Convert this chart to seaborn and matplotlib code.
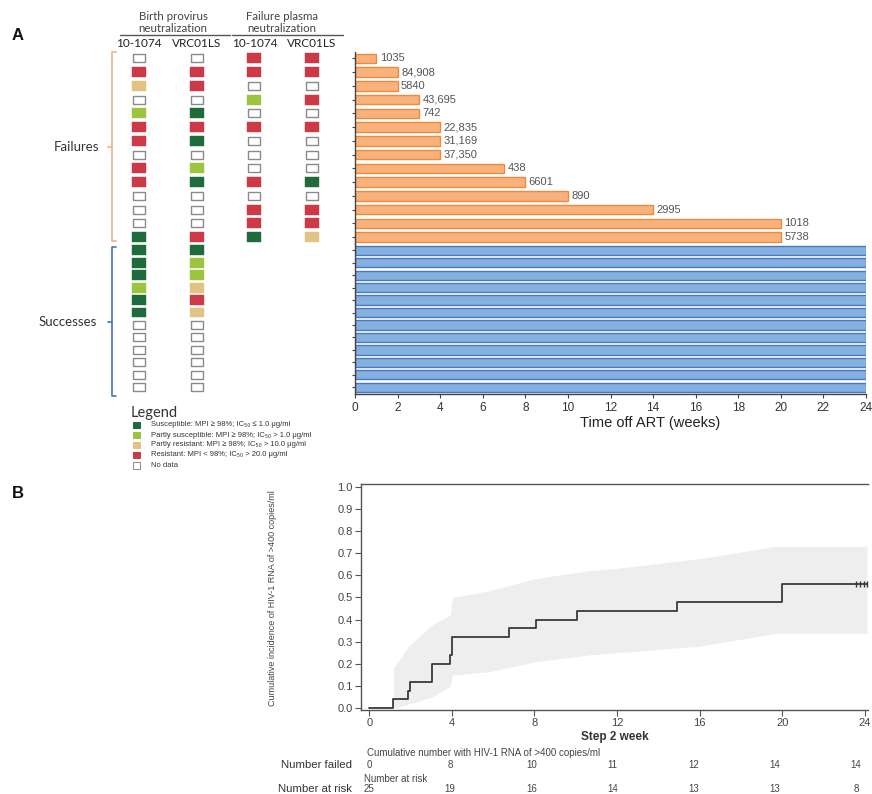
import matplotlib
matplotlib.use("Agg")
import matplotlib.pyplot as plt
import matplotlib.transforms as mtransforms
from matplotlib.lines import Line2D
from matplotlib.patches import Rectangle
import numpy as np
import pandas as pd
import seaborn as sns

# ---------------- data ----------------
failure_weeks = [1, 2, 2, 3, 3, 4, 4, 4, 7, 8, 10, 14, 20, 20]
failure_viral_loads = ["1035", "84,908", "5840", "43,695", "742", "22,835",
                       "31,169", "37,350", "438", "6601", "890", "2995", "1018", "5738"]
success_weeks = [24, 24, 24, 24, 24, 24, 24, 24, 24, 24, 24, 24]

column_labels = ["10-1074", "VRC01LS", "10-1074", "VRC01LS"]
group_labels = [("Birth provirus", "neutralization"), ("Failure plasma", "neutralization")]

# S susceptible, PS partly susceptible, PR partly resistant, R resistant, N no data
fail_birth_10_1074 = ["N", "R", "PR", "N", "PS", "R", "R", "N", "R", "R", "N", "N", "N", "S"]
fail_birth_vrc01ls = ["N", "R", "R", "N", "S", "R", "S", "N", "PS", "S", "N", "N", "N", "R"]
fail_plasma_10_1074 = ["R", "R", "N", "PS", "N", "R", "N", "N", "N", "R", "N", "R", "R", "S"]
fail_plasma_vrc01ls = ["R", "R", "N", "R", "N", "R", "N", "N", "N", "S", "N", "R", "R", "PR"]
succ_birth_10_1074 = ["S", "S", "S", "PS", "S", "S", "N", "N", "N", "N", "N", "N"]
succ_birth_vrc01ls = ["S", "PS", "PS", "PR", "R", "PR", "N", "N", "N", "N", "N", "N"]

status_codes = ["S", "PS", "PR", "R", "N"]
status_labels = ["Susceptible: MPI \u2265 98%; IC\u2085\u2080 \u2264 1.0 \u03bcg/ml",
                 "Partly susceptible: MPI \u2265 98%; IC\u2085\u2080 > 1.0 \u03bcg/ml",
                 "Partly resistant: MPI \u2265 98%; IC\u2085\u2080 > 10.0 \u03bcg/ml",
                 "Resistant: MPI < 98%; IC\u2085\u2080 > 20.0 \u03bcg/ml",
                 "No data"]
status_colors = {"S": "#1F6B3B", "PS": "#9BC43F", "PR": "#E2C384", "R": "#CD3A45", "N": "#FFFFFF"}

km_weeks = [0, 1.17, 1.9, 1.98, 3.03, 3.92, 4.03, 6.75, 8.05, 10.04, 14.9, 20.0, 24.1]
km_incidence = [0.0, 0.04, 0.08, 0.12, 0.20, 0.24, 0.32, 0.36, 0.40, 0.44, 0.48, 0.56, 0.56]
ci_weeks = [1.17, 1.9, 3.03, 3.92, 4.03, 5.8, 8.05, 10.6, 11.9, 16.0, 19.7, 24.1]
ci_upper = [0.18, 0.28, 0.375, 0.42, 0.50, 0.53, 0.585, 0.62, 0.63, 0.675, 0.73, 0.73]
ci_lower = [0.0, 0.02, 0.05, 0.10, 0.15, 0.165, 0.21, 0.24, 0.25, 0.28, 0.338, 0.338]
censor_weeks = [23.55, 23.75, 23.95, 24.1]
censor_incidence = [0.56, 0.56, 0.56, 0.56]

risk_weeks = [0, 4, 8, 12, 16, 20, 24]
number_failed = [0, 8, 10, 11, 12, 14, 14]
number_at_risk = [25, 19, 16, 14, 13, 13, 8]

# ---------------- figure ----------------
W, H = 872, 794
sns.set_theme(style="white")
plt.rcParams["font.family"] = ["Liberation Sans", "DejaVu Sans"]
CAL = ["Lato", "DejaVu Sans"]

fig = plt.figure(figsize=(W / 100, H / 100), dpi=100)


def add_ax(l, t, r, b):
    return fig.add_axes([l / W, 1 - b / H, (r - l) / W, (b - t) / H])


def fx(x):
    return x / W


def fy(y):
    return 1 - y / H


AXC = "#444444"

# ---- bars: failures ----
fail_ids = [f"F{i}" for i in range(len(failure_weeks))]
df_fail = pd.DataFrame({"id": fail_ids, "weeks": failure_weeks})
ax_f = add_ax(355, 51.5, 866, 244)
sns.barplot(data=df_fail, x="weeks", y="id", orient="h", color="#F9B27C",
            edgecolor="#EE8A3C", linewidth=1.0, width=0.68, saturation=1, ax=ax_f)
ax_f.bar_label(ax_f.containers[0], labels=failure_viral_loads, padding=2.5,
               fontsize=8, color="#555555")
ax_f.set_xlim(0, 24)
ax_f.set_ylim(len(fail_ids) - 0.5, -0.5)
ax_f.set_xlabel("")
ax_f.set_ylabel("")
ax_f.set_xticks([])
ax_f.set_yticks(range(len(fail_ids)))
ax_f.set_yticklabels([])
for s in ["top", "right", "bottom"]:
    ax_f.spines[s].set_visible(False)
ax_f.spines["left"].set_color(AXC)
ax_f.spines["left"].set_linewidth(1.0)
ax_f.tick_params(axis="y", left=True, direction="inout", length=4, width=0.8, color=AXC)
ax_f.patch.set_alpha(0)

# ---- bars: successes ----
succ_ids = [f"S{i}" for i in range(len(success_weeks))]
df_succ = pd.DataFrame({"id": succ_ids, "weeks": success_weeks})
ax_s = add_ax(355, 244, 866, 393.5)
sns.barplot(data=df_succ, x="weeks", y="id", orient="h", color="#84B1E0",
            edgecolor="#4A78BE", linewidth=1.0, width=0.745, saturation=1, ax=ax_s)
ax_s.set_xlim(0, 24)
ax_s.set_ylim(len(succ_ids) - 0.5, -0.5)
ax_s.set_ylabel("")
ax_s.set_yticks(range(len(succ_ids)))
ax_s.set_yticklabels([])
ax_s.set_xticks(range(0, 25, 2))
ax_s.set_xticklabels([str(v) for v in range(0, 25, 2)])
for s in ["top", "right"]:
    ax_s.spines[s].set_visible(False)
for s in ["left", "bottom"]:
    ax_s.spines[s].set_color(AXC)
    ax_s.spines[s].set_linewidth(1.0)
ax_s.tick_params(axis="y", left=True, direction="inout", length=4, width=0.8, color=AXC)
ax_s.tick_params(axis="x", bottom=True, direction="out", length=3, width=0.8, color=AXC,
                 labelsize=8.5, labelcolor="#333333", pad=3)
ax_s.set_xlabel("Time off ART (weeks)", fontsize=10.5, color="#222222")
ax_s.xaxis.set_label_coords((650 - 355) / 511, (393.5 - 423) / 149.5)
ax_s.xaxis.label.set_va("center")
ax_s.patch.set_alpha(0)

# ---- neutralization squares ----
rect_marker = [(-1, -0.7), (1, -0.7), (1, 0.7), (-1, 0.7), (-1, -0.7)]


def cell_frame(cols):
    rows = []
    for ci, col in enumerate(cols):
        for ri, code in enumerate(col):
            rows.append((ci, ri, code))
    return pd.DataFrame(rows, columns=["col", "row", "status"])


def draw_cells(ax, df, nrows):
    colored = df[df["status"] != "N"]
    empty = df[df["status"] == "N"]
    if len(colored):
        sns.scatterplot(data=colored, x="col", y="row", hue="status", palette=status_colors,
                        marker=rect_marker, s=102, edgecolor="face", linewidth=0.3,
                        legend=False, ax=ax)
    if len(empty):
        sns.scatterplot(data=empty, x="col", y="row", color="white", marker=rect_marker,
                        s=84, edgecolor="#8A8A8A", linewidth=1.0, legend=False, ax=ax)
    ax.set_xlim(-0.486, 3.485)
    ax.set_ylim(nrows - 0.5, -0.5)
    ax.axis("off")


ax_cf = add_ax(111, 51.5, 340, 244)
draw_cells(ax_cf, cell_frame([fail_birth_10_1074, fail_birth_vrc01ls,
                              fail_plasma_10_1074, fail_plasma_vrc01ls]), len(fail_ids))
ax_cs = add_ax(111, 244, 340, 393.5)
draw_cells(ax_cs, cell_frame([succ_birth_10_1074, succ_birth_vrc01ls]), len(succ_ids))

# column headers
trans_cols = mtransforms.blended_transform_factory(ax_cf.transData, fig.transFigure)
for ci, lab in enumerate(column_labels):
    ax_cf.text(ci, fy(43.5), lab, ha="center", va="center", fontsize=8.5,
               family=CAL, color="#222222", transform=trans_cols)
for (l1, l2), xc in zip(group_labels, [173, 282]):
    fig.text(fx(xc), fy(17), l1, ha="center", va="center", fontsize=8.3, family=CAL, color="#444444")
    fig.text(fx(xc), fy(29), l2, ha="center", va="center", fontsize=8.3, family=CAL, color="#444444")
for x0, x1 in [(120, 230), (232, 343)]:
    fig.add_artist(Line2D([fx(x0), fx(x1)], [fy(34.5), fy(34.5)], color="#555555", lw=1.0))

# group labels and brackets
fig.text(fx(99), fy(147), "Failures", ha="right", va="center", fontsize=9.5, family=CAL, color="#333333")
fig.text(fx(97), fy(322), "Successes", ha="right", va="center", fontsize=9.5, family=CAL, color="#333333")


def bracket(top, bot, mid, color):
    xs = [fx(116), fx(112), fx(112), fx(116)]
    ys = [fy(top), fy(top), fy(bot), fy(bot)]
    fig.add_artist(Line2D(xs, ys, color=color, lw=1.2))
    fig.add_artist(Line2D([fx(108), fx(112)], [fy(mid), fy(mid)], color=color, lw=1.2))


bracket(52, 241, 147, "#F4B183")
bracket(247, 396, 322, "#4472C4")

# legend
fig.text(fx(131), fy(413), "Legend", ha="left", va="center", fontsize=10.5, family=CAL, color="#333333")
for code, lab, yc in zip(status_codes, status_labels, [425, 435, 445, 455, 465.5]):
    ec = "#8A8A8A" if code == "N" else status_colors[code]
    fig.add_artist(Rectangle((fx(132.5), fy(yc + 3.1)), 7.0 / W, 6.2 / H,
                             facecolor=status_colors[code], edgecolor=ec, lw=0.7))
    fig.text(fx(151), fy(yc), lab, ha="left", va="center", fontsize=5.5, color="#333333")

fig.text(fx(12), fy(35), "A", ha="left", va="center", fontsize=12, fontweight="bold", color="#111111")
fig.text(fx(12), fy(493), "B", ha="left", va="center", fontsize=12, fontweight="bold", color="#111111")

# ---- panel B: cumulative incidence ----
ax_k = add_ax(361, 484, 868, 710)
ax_k.fill_between(ci_weeks, ci_lower, ci_upper, color="#EEEEEE", lw=0, zorder=0)
sns.lineplot(x=km_weeks, y=km_incidence, drawstyle="steps-post", color="#3A3A3A",
             linewidth=1.3, estimator=None, ax=ax_k)
sns.scatterplot(x=censor_weeks, y=censor_incidence, marker="|", s=14, color="#333333",
                linewidth=1.0, legend=False, ax=ax_k)
ax_k.set_xlim(-0.40, 24.15)
ax_k.set_ylim(-0.0077, 1.0113)
ax_k.set_xticks(risk_weeks)
ax_k.set_xticklabels([str(v) for v in risk_weeks])
yt = np.round(np.arange(0, 1.01, 0.1), 1)
ax_k.set_yticks(yt)
ax_k.set_yticklabels([f"{v:.1f}" for v in yt])
ax_k.spines["right"].set_visible(False)
for s in ["left", "bottom", "top"]:
    ax_k.spines[s].set_color("#555555")
    ax_k.spines[s].set_linewidth(1.0)
ax_k.tick_params(left=True, bottom=True, direction="out", length=4, width=0.8, color="#555555",
                 labelsize=8, labelcolor="#444444", pad=2)
ax_k.set_ylabel("Cumulative incidence of HIV-1 RNA of >400 copies/ml", fontsize=6.5, color="#444444")
ax_k.yaxis.set_label_coords((272 - 361) / 507, (710 - 598) / 226)
ax_k.yaxis.label.set_va("center")
ax_k.set_xlabel("Step 2 week", fontsize=8.5, fontweight="bold", color="#333333")
ax_k.xaxis.set_label_coords(0.5, (710 - 737) / 226)
ax_k.xaxis.label.set_va("center")

# ---- risk table ----
ax_r = add_ax(361, 745, 868, 794)
ax_r.set_xlim(-0.394, 24.59)
ax_r.axis("off")
trans_r = mtransforms.blended_transform_factory(ax_r.transData, fig.transFigure)
for w, n in zip(risk_weeks, number_failed):
    ax_r.text(w, fy(765), str(n), ha="center", va="center", fontsize=7, color="#444444", transform=trans_r)
for w, n in zip(risk_weeks, number_at_risk):
    ax_r.text(w, fy(789), str(n), ha="center", va="center", fontsize=7, color="#444444", transform=trans_r)
fig.text(fx(367), fy(753), "Cumulative number with HIV-1 RNA of >400 copies/ml", ha="left", va="center",
         fontsize=7, color="#444444")
fig.text(fx(364), fy(779.5), "Number at risk", ha="left", va="center", fontsize=7, color="#444444")
fig.text(fx(352), fy(765), "Number failed", ha="right", va="center", fontsize=8.2, color="#333333")
fig.text(fx(352), fy(788.5), "Number at risk", ha="right", va="center", fontsize=8.2, color="#333333")

fig.savefig("out.png", dpi=100)
